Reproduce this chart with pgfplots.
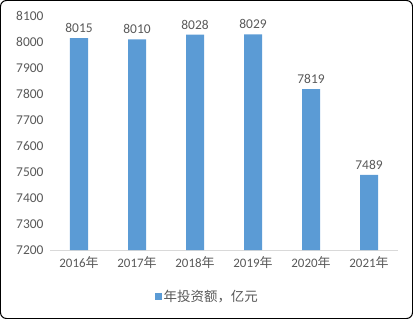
\documentclass[border=0pt]{standalone}
\usepackage{pgfplots}
\pgfplotsset{compat=1.18}
\usepackage{fontspec}
\setmainfont{Carlito}
\newfontfamily\cjk{Noto Sans CJK SC}
\definecolor{barblue}{HTML}{5B9BD5}
\definecolor{txt}{HTML}{595959}
\definecolor{axln}{HTML}{D9D9D9}
\begin{document}
\begin{tikzpicture}[x=1bp,y=1bp]
\draw[black, line width=1bp, rounded corners=6bp] (0.5,0.5) rectangle (412.5,318.5);
\begin{axis}[
  at={(50bp,69bp)}, anchor=south west,
  scale only axis, width=348bp, height=234bp,
  xmin=-0.5, xmax=5.5, ymin=7200, ymax=8100,
  ytick={7200,7300,...,8100},
  xtick=data,
  xticklabels={2016{\cjk 年},2017{\cjk 年},2018{\cjk 年},2019{\cjk 年},2020{\cjk 年},2021{\cjk 年}},
  axis x line*=bottom, axis y line*=left,
  x axis line style={draw=axln, line width=1bp, -},
  y axis line style={draw=none},
  major tick length=0pt,
  xticklabel style={font=\fontsize{13}{15}\selectfont, text=txt, yshift=-3bp},
  yticklabel style={font=\fontsize{13.5}{15}\selectfont, text=txt, xshift=-3bp, /pgf/number format/.cd, set thousands separator={}},
  /pgf/number format/assume math mode=true,
  ybar, bar width=18bp,
  nodes near coords,
  nodes near coords style={font=\fontsize{13.5}{15}\selectfont, text=txt, yshift=2bp, /pgf/number format/.cd, set thousands separator={}},
  legend style={at={(0.452,-0.2)}, anchor=center, draw=none, font=\cjk\fontsize{13.5}{15}\selectfont, text=txt},
  legend image code/.code={\fill[barblue] (0bp,-3.5bp) rectangle (7bp,3.5bp);},
  clip=false,
]
\addplot[fill=barblue, draw=none] coordinates {(0,8015) (1,8010) (2,8028) (3,8029) (4,7819) (5,7489)};
\addlegendentry{年投资额，亿元}
\end{axis}
\end{tikzpicture}
\end{document}
